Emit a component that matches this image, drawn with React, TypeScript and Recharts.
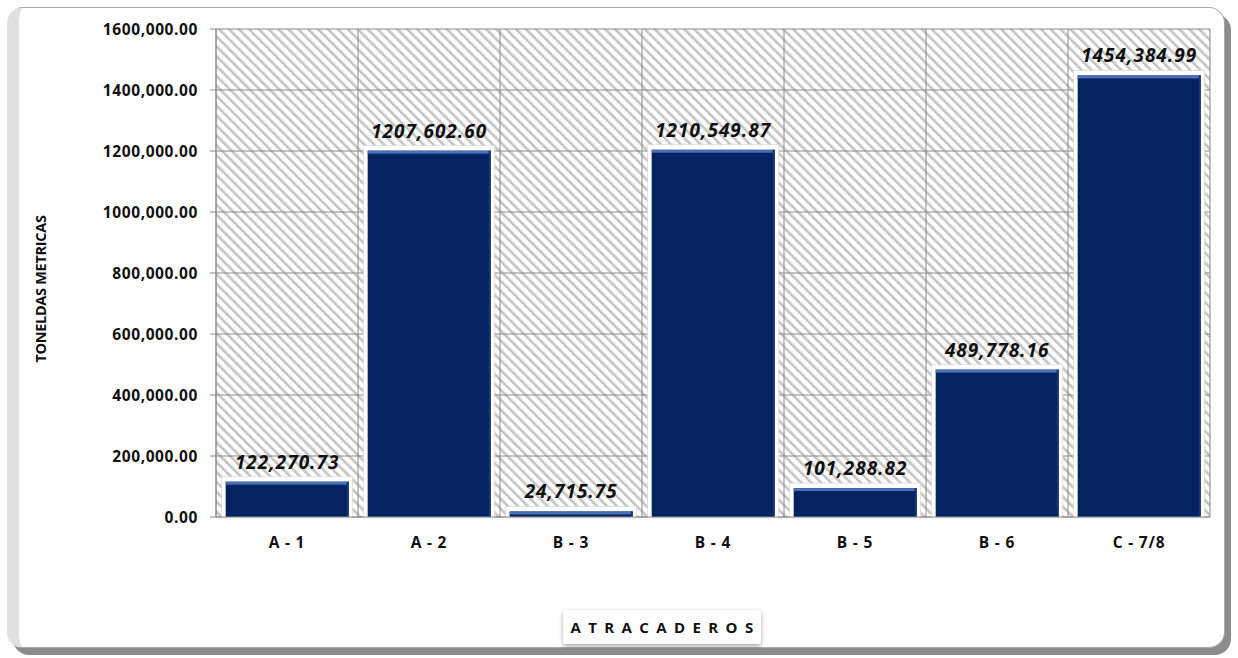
import React from "react";
import { BarChart, Bar, XAxis, YAxis, CartesianGrid, LabelList } from "recharts";

const categories = ["A - 1", "A - 2", "B - 3", "B - 4", "B - 5", "B - 6", "C - 7/8"];
const tonnes = [122270.73, 1207602.6, 24715.75, 1210549.87, 101288.82, 489778.16, 1454384.99];
const yTicks = [0, 200000, 400000, 600000, 800000, 1000000, 1200000, 1400000, 1600000];

const data = categories.map((name, i) => ({ name, value: tonnes[i] }));

const fmt = (v: number) => {
  if (v === 0) return "0.00";
  const th = Math.floor(v / 1000);
  const rest = v - th * 1000;
  const restStr = rest.toFixed(2).padStart(6, "0");
  return `${th},${restStr}`;
};

const FONT = "'Open Sans', 'DejaVu Sans', sans-serif";

const BarShape = (props: any) => {
  const { x, y, width, height } = props;
  if (width == null || height == null) return null;
  const h = Math.max(height - 2, 0);
  return (
    <g>
      <rect x={x} y={y - 3} width={width} height={height + 4} fill="#ffffff" stroke="#dcdcdc" strokeWidth={0.8} />
      <rect x={x + 4} y={y + 2} width={width - 8} height={h} fill="#052361" />
      <rect x={x + 4} y={y + 2} width={width - 8} height={Math.min(3, h)} fill="#4a6fb5" />
      <rect x={x + width - 6} y={y + 2} width={2} height={h} fill="#13327a" />
    </g>
  );
};

const vGen = ({ offset }: any) => {
  const n = categories.length;
  const arr: number[] = [];
  for (let i = 0; i <= n; i++) arr.push(offset.left + (offset.width * i) / n);
  return arr;
};

export default function App() {
  return (
    <div style={{ position: "absolute", left: 0, top: 0, width: 1238, height: 658, background: "#fff", fontFamily: FONT }}>
      <div
        style={{
          position: "absolute",
          left: 7,
          top: 7,
          width: 1218,
          height: 641,
          borderRadius: 16,
          border: "1px solid #a8a8a8",
          borderLeft: "12px solid #e0e0e0",
          boxShadow: "6px 7px 0 #8c8c8c",
          background: "#fff",
          boxSizing: "border-box",
        }}
      />
      <div style={{ position: "absolute", left: 0, top: 0 }}>
        <BarChart
          width={1238}
          height={658}
          data={data}
          margin={{ top: 29, right: 28, bottom: 111, left: 106 }}
          barCategoryGap="4%"
        >
          <defs>
            <pattern id="hatch" patternUnits="userSpaceOnUse" width="7" height="7" patternTransform="rotate(-45)">
              <rect width="7" height="7" fill="#ffffff" />
              <rect width="2.6" height="7" fill="#c4c4c4" />
            </pattern>
          </defs>
          <CartesianGrid
            stroke="#8a8a8a"
            strokeWidth={1}
            fill="url(#hatch)"
            fillOpacity={1}
            verticalCoordinatesGenerator={vGen}
          />
          <XAxis
            dataKey="name"
            axisLine={{ stroke: "#8a8a8a" }}
            tickLine={false}
            height={30}
            tickMargin={14}
            tick={{ fill: "#111", fontSize: 15.5, fontWeight: 700, fontFamily: FONT, letterSpacing: 0.8 }}
          />
          <YAxis
            domain={[0, 1600000]}
            ticks={yTicks}
            tickFormatter={fmt}
            width={110}
            axisLine={{ stroke: "#8a8a8a" }}
            tickLine={{ stroke: "#8a8a8a" }}
            tickSize={6}
            tickMargin={12}
            tick={{ fill: "#111", fontSize: 15.5, fontWeight: 700, fontFamily: FONT, letterSpacing: 0.6 }}
          />
          <Bar dataKey="value" isAnimationActive={false} shape={<BarShape />}>
            <LabelList
              dataKey="value"
              position="top"
              offset={11}
              formatter={(v: any) => fmt(Number(v))}
              style={{ fill: "#111", fontSize: 19, fontWeight: 700, fontStyle: "italic", fontFamily: FONT, letterSpacing: 1 }}
            />
          </Bar>
        </BarChart>
      </div>
      <div
        style={{
          position: "absolute",
          left: 40,
          top: 289,
          transform: "translate(-50%, -50%) rotate(-90deg)",
          whiteSpace: "nowrap",
          fontSize: 14.5,
          fontWeight: 700,
          letterSpacing: -0.3,
          color: "#111",
        }}
      >
        TONELDAS METRICAS
      </div>
      <div
        style={{
          position: "absolute",
          left: 563,
          top: 610,
          width: 198,
          height: 34,
          background: "#fff",
          borderRadius: 2,
          boxShadow: "0 2px 4px rgba(0,0,0,0.35)",
          display: "flex",
          alignItems: "center",
          justifyContent: "center",
          fontSize: 15,
          fontWeight: 700,
          letterSpacing: 7.4,
          color: "#111",
          paddingLeft: 7,
          boxSizing: "border-box",
        }}
      >
        ATRACADEROS
      </div>
    </div>
  );
}
